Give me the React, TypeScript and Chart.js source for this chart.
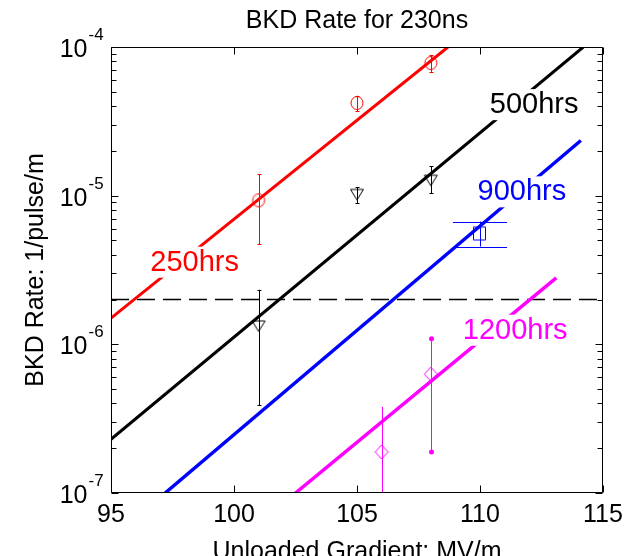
import React, { useEffect, useRef } from "react";
import { Chart, registerables } from "chart.js";

Chart.register(...registerables);

// ---------- data ----------
const xTickValues = [95, 100, 105, 110, 115];
const yDecadeExponents = [-4, -5, -6, -7];

// fitted lines (x: unloaded gradient MV/m, y: BKD rate 1/pulse/m)
const fit250X = [95, 108.7];
const fit250Y = [1.5e-6, 1e-4];
const fit500X = [95, 114.2];
const fit500Y = [2.3e-7, 1e-4];
const fit900X = [97.2, 114.1];
const fit900Y = [1e-7, 2.35e-5];
const fit1200X = [102.5, 113.1];
const fit1200Y = [1e-7, 2.8e-6];

// measured points with error bars
const meas250X = [101, 105, 108];
const meas250Y = [9.3e-6, 4.2e-5, 7.8e-5];
const meas250Hi = [1.4e-5, 4.7e-5, 8.8e-5];
const meas250Lo = [4.7e-6, 3.7e-5, 6.8e-5];

const meas500X = [101, 105, 108];
const meas500Y = [1.33e-6, 1.02e-5, 1.27e-5];
const meas500Hi = [2.33e-6, 1.14e-5, 1.58e-5];
const meas500Lo = [3.9e-7, 8.9e-6, 1.04e-5];

const meas900X = [110];
const meas900Y = [5.57e-6];
const meas900Hi = [6.7e-6];
const meas900Lo = [4.55e-6];

const meas1200X = [106, 108];
const meas1200Y = [1.89e-7, 6.3e-7];
const meas1200Hi = [3.8e-7, 1.09e-6];
const meas1200Lo = [5e-8, 1.89e-7];

const thresholdX = [95, 115];
const thresholdY = [2e-6, 2e-6];

const seriesLabels = ["250hrs", "500hrs", "900hrs", "1200hrs"];
// label anchor (left, baseline) in data units
const labelAnchorX = [96.6, 110.4, 109.9, 109.3];
const labelAnchorY = [3.13e-6, 3.59e-5, 9.3e-6, 1.09e-6];

const titleText = "BKD Rate for 230ns";
const xTitle = "Unloaded Gradient: MV/m";
const yTitle = "BKD Rate: 1/pulse/m";

// ---------- styles ----------
const RED = "#ff0000";
const BLACK = "#000000";
const BLUE = "#0000ff";
const MAGENTA = "#ff00ff";
const seriesColors = [RED, BLACK, BLUE, MAGENTA];
const FONT = '"Liberation Sans", Arial, Helvetica, sans-serif';

const pts = (xs: number[], ys: number[]) => xs.map((x, i) => ({ x, y: ys[i] }));

function makeMarker(kind: string, color: string): HTMLCanvasElement {
  const c = document.createElement("canvas");
  const size = 16;
  c.width = size;
  c.height = size;
  const g = c.getContext("2d")!;
  g.strokeStyle = color;
  g.lineWidth = 1;
  g.beginPath();
  if (kind === "circle") {
    g.ellipse(8, 8, 6, 6.5, 0, 0, Math.PI * 2);
  } else if (kind === "triDown") {
    g.moveTo(1.5, 3);
    g.lineTo(14.5, 3);
    g.lineTo(8, 13.5);
    g.closePath();
  } else if (kind === "square") {
    g.rect(1.5, 1.5, 12, 13);
  } else if (kind === "diamond") {
    g.moveTo(8, 1);
    g.lineTo(14.5, 8);
    g.lineTo(8, 15);
    g.lineTo(1.5, 8);
    g.closePath();
  }
  g.stroke();
  return c;
}

type ErrSeries = {
  xs: number[];
  hi: number[];
  lo: number[];
  color: string;
  caps: string[];
};

const errorSeries: ErrSeries[] = [
  { xs: meas250X, hi: meas250Hi, lo: meas250Lo, color: RED, caps: ["tick", "tick", "tick"] },
  { xs: meas500X, hi: meas500Hi, lo: meas500Lo, color: BLACK, caps: ["tick", "tick", "tick"] },
  { xs: meas900X, hi: meas900Hi, lo: meas900Lo, color: BLUE, caps: ["wide"] },
  { xs: meas1200X, hi: meas1200Hi, lo: meas1200Lo, color: MAGENTA, caps: ["none", "dot"] },
];

const decorPlugin = {
  id: "decor",
  afterDatasetsDraw(chart: any) {
    const { ctx, chartArea: ca } = chart;
    const xs = chart.scales.x;
    const ys = chart.scales.y;

    // error bars
    ctx.save();
    ctx.beginPath();
    ctx.rect(ca.left, ca.top, ca.right - ca.left, ca.bottom - ca.top);
    ctx.clip();
    errorSeries.forEach((s) => {
      ctx.strokeStyle = s.color;
      ctx.fillStyle = s.color;
      ctx.lineWidth = 1;
      s.xs.forEach((xv, i) => {
        const cap = s.caps[i];
        const px = Math.round(xs.getPixelForValue(xv)) + 0.5;
        const ph = ys.getPixelForValue(s.hi[i]);
        const pl = ys.getPixelForValue(s.lo[i]);
        ctx.beginPath();
        ctx.moveTo(px, ph);
        ctx.lineTo(px, pl);
        ctx.stroke();
        if (cap === "tick") {
          ctx.beginPath();
          ctx.moveTo(px - 2, Math.round(ph) + 0.5);
          ctx.lineTo(px + 2, Math.round(ph) + 0.5);
          ctx.moveTo(px - 2, Math.round(pl) + 0.5);
          ctx.lineTo(px + 2, Math.round(pl) + 0.5);
          ctx.stroke();
        } else if (cap === "wide") {
          const l = xs.getPixelForValue(xv - 1.1);
          const r = xs.getPixelForValue(xv + 1.1);
          ctx.beginPath();
          ctx.moveTo(l, Math.round(ph) + 0.5);
          ctx.lineTo(r, Math.round(ph) + 0.5);
          ctx.moveTo(l, Math.round(pl) + 0.5);
          ctx.lineTo(r, Math.round(pl) + 0.5);
          ctx.stroke();
        } else if (cap === "dot") {
          [ph, pl].forEach((py) => {
            ctx.beginPath();
            ctx.arc(px, py, 2.5, 0, Math.PI * 2);
            ctx.fill();
          });
        }
      });
    });
    ctx.restore();

    // series labels with white background
    ctx.save();
    ctx.font = `29px ${FONT}`;
    ctx.textAlign = "left";
    ctx.textBaseline = "alphabetic";
    seriesLabels.forEach((t, i) => {
      const lx = xs.getPixelForValue(labelAnchorX[i]);
      const ly = ys.getPixelForValue(labelAnchorY[i]);
      const m = ctx.measureText(t);
      ctx.fillStyle = "#ffffff";
      ctx.fillRect(lx - 3, ly - 24, m.width + 6, 31);
      ctx.fillStyle = seriesColors[i];
      ctx.fillText(t, lx, ly);
    });
    ctx.restore();

    // frame
    ctx.save();
    ctx.strokeStyle = "#000";
    ctx.lineWidth = 1;
    const L = Math.round(ca.left) + 0.5;
    const R = Math.round(ca.right) - 0.5;
    const T = Math.round(ca.top) + 0.5;
    const B = Math.round(ca.bottom) - 0.5;
    ctx.beginPath();
    ctx.rect(L, T, R - L, B - T);
    ctx.stroke();

    // x ticks (inward, top and bottom)
    ctx.beginPath();
    xTickValues.forEach((v) => {
      const px = Math.round(xs.getPixelForValue(v)) + 0.5;
      ctx.moveTo(px, B);
      ctx.lineTo(px, B - 7);
      ctx.moveTo(px, T);
      ctx.lineTo(px, T + 7);
    });
    // y ticks (log, inward, left and right)
    yDecadeExponents.forEach((e) => {
      for (let m = 1; m <= 9; m++) {
        const v = m * Math.pow(10, e);
        if (v > 1.0001e-4) continue;
        const py = Math.round(ys.getPixelForValue(v)) + 0.5;
        const len = m === 1 ? 7 : 5;
        ctx.moveTo(L, py);
        ctx.lineTo(L + len, py);
        ctx.moveTo(R, py);
        ctx.lineTo(R - len, py);
      }
    });
    ctx.stroke();

    // tick labels
    ctx.fillStyle = "#000";
    ctx.font = `25px ${FONT}`;
    ctx.textAlign = "center";
    ctx.textBaseline = "alphabetic";
    xTickValues.forEach((v) => {
      ctx.fillText(String(v), xs.getPixelForValue(v), B + 29);
    });
    yDecadeExponents.forEach((e) => {
      const py = ys.getPixelForValue(Math.pow(10, e));
      ctx.font = `25px ${FONT}`;
      ctx.textAlign = "right";
      ctx.fillText("10", L - 24, py + 10);
      ctx.font = `17px ${FONT}`;
      ctx.textAlign = "left";
      ctx.fillText(String(e), L - 23, py - 7);
    });

    // titles
    const cx = (ca.left + ca.right) / 2;
    ctx.font = `25px ${FONT}`;
    ctx.textAlign = "center";
    ctx.fillText(titleText, cx, 28);
    ctx.fillText(xTitle, cx, B + 66);
    ctx.save();
    ctx.translate(43, (ca.top + ca.bottom) / 2);
    ctx.rotate(-Math.PI / 2);
    ctx.fillText(yTitle, 0, 0);
    ctx.restore();
    ctx.restore();
  },
};

export default function App() {
  const ref = useRef<HTMLCanvasElement | null>(null);

  useEffect(() => {
    if (!ref.current) return;
    const circle = makeMarker("circle", RED);
    const tri = makeMarker("triDown", BLACK);
    const sq = makeMarker("square", BLUE);
    const dia = makeMarker("diamond", MAGENTA);

    const lineDs = (xs: number[], ys: number[], color: string, w: number) => ({
      data: pts(xs, ys),
      showLine: true,
      borderColor: color,
      borderWidth: w,
      pointRadius: 0,
      fill: false,
    });
    const markDs = (xs: number[], ys: number[], style: HTMLCanvasElement) => ({
      data: pts(xs, ys),
      showLine: false,
      pointStyle: style,
      pointRadius: 6,
      pointHoverRadius: 6,
      borderColor: "transparent",
      backgroundColor: "transparent",
    });

    const chart = new Chart(ref.current, {
      type: "scatter",
      data: {
        datasets: [
          markDs(meas250X, meas250Y, circle),
          markDs(meas500X, meas500Y, tri),
          markDs(meas900X, meas900Y, sq),
          markDs(meas1200X, meas1200Y, dia),
          lineDs(fit250X, fit250Y, RED, 3),
          lineDs(fit500X, fit500Y, BLACK, 3),
          lineDs(fit900X, fit900Y, BLUE, 3.5),
          lineDs(fit1200X, fit1200Y, MAGENTA, 3.5),
          {
            data: pts(thresholdX, thresholdY),
            showLine: true,
            borderColor: BLACK,
            borderWidth: 1.5,
            borderDash: [18, 8],
            pointRadius: 0,
            fill: false,
          },
        ] as any,
      },
      options: {
        responsive: false,
        maintainAspectRatio: false,
        devicePixelRatio: 1,
        animation: false,
        events: [],
        layout: { padding: { left: 111, top: 47, right: 30, bottom: 63 } },
        plugins: { legend: { display: false }, tooltip: { enabled: false }, title: { display: false } },
        scales: {
          x: { type: "linear", min: 95, max: 115, display: false },
          y: { type: "logarithmic", min: 1e-7, max: 1e-4, display: false },
        },
      },
      plugins: [decorPlugin],
    });
    return () => chart.destroy();
  }, []);

  return (
    <div style={{ position: "fixed", left: 0, top: 0, width: 633, height: 556, background: "#fff" }}>
      <canvas ref={ref} width={633} height={556} style={{ display: "block", width: 633, height: 556 }} />
    </div>
  );
}
